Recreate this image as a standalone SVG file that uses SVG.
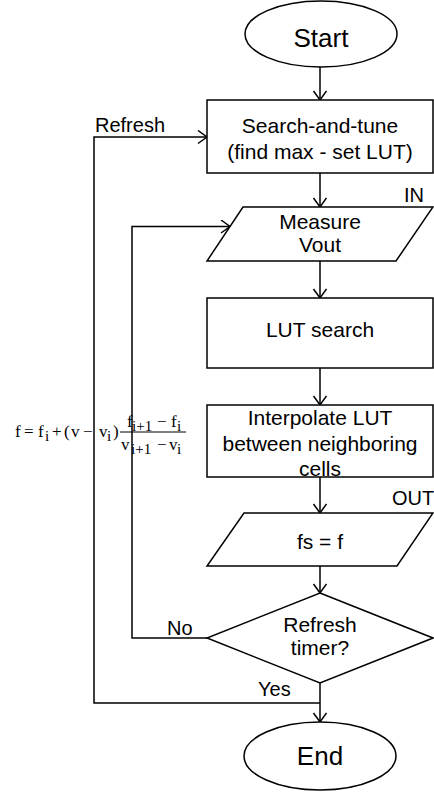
<svg xmlns="http://www.w3.org/2000/svg" width="434" height="792" viewBox="0 0 434 792">
<style>
.s{fill:#fff;stroke:#000;stroke-width:1.5}
.t{font-family:"Liberation Sans",Arial,sans-serif;font-size:21px;fill:#000;text-anchor:middle}
.b{font-family:"Liberation Sans",Arial,sans-serif;font-size:26px;fill:#000;text-anchor:middle}
.l{font-family:"Liberation Sans",Arial,sans-serif;font-size:20px;fill:#000}
.m{font-family:"Liberation Serif","Times New Roman",serif;font-size:17px;fill:#000}
.u{font-family:"Liberation Serif","Times New Roman",serif;font-size:15px;fill:#000}
.c{fill:none;stroke:#000;stroke-width:1.5}
</style>
<defs>
<marker id="a" markerUnits="userSpaceOnUse" markerWidth="16" markerHeight="16" refX="10" refY="7" orient="auto">
<path d="M1,0.5 L10,7 L1,13.5" fill="none" stroke="#000" stroke-width="1.5"/>
</marker>
</defs>
<rect width="434" height="792" fill="#fff"/>
<g id="connectors">
<line class="c" x1="320" y1="67" x2="320" y2="100" marker-end="url(#a)"/>
<line class="c" x1="320" y1="173" x2="320" y2="207" marker-end="url(#a)"/>
<line class="c" x1="320" y1="261" x2="320" y2="298" marker-end="url(#a)"/>
<line class="c" x1="320" y1="368" x2="320" y2="405" marker-end="url(#a)"/>
<line class="c" x1="320" y1="477" x2="320" y2="513" marker-end="url(#a)"/>
<line class="c" x1="320" y1="566" x2="320" y2="593" marker-end="url(#a)"/>
<line class="c" x1="320" y1="683" x2="320" y2="722" marker-end="url(#a)"/>
<path class="c" d="M320,703 H94 V137 H207" marker-end="url(#a)"/>
<path class="c" d="M207,638 H132 V226.5 H230" marker-end="url(#a)"/>
<text class="l" x="95" y="132">Refresh</text>
<text class="l" x="167" y="635">No</text>
<text class="l" x="258" y="696">Yes</text>
<text class="l" x="404" y="202">IN</text>
<text class="l" x="392" y="505">OUT</text>
</g>
<g id="start">
<ellipse class="s" cx="321" cy="34" rx="76" ry="33"/>
<text class="b" x="321" y="47">Start</text>
</g>
<g id="search-tune">
<rect class="s" x="207" y="100" width="226" height="73"/>
<text class="t" x="320" y="133">Search-and-tune</text>
<text class="t" x="320" y="159">(find max - set LUT)</text>
</g>
<g id="measure">
<polygon class="s" points="243,207 433,207 396,261 207,261"/>
<text class="t" x="320" y="229">Measure</text>
<text class="t" x="320" y="252">Vout</text>
</g>
<g id="lut-search">
<rect class="s" x="207" y="298" width="226" height="70"/>
<text class="t" x="320" y="337">LUT search</text>
</g>
<g id="interpolate">
<rect class="s" x="207" y="405" width="226" height="72"/>
<text class="t" x="320" y="425">Interpolate LUT</text>
<text class="t" x="320" y="451">between neighboring</text>
<text class="t" x="320" y="476">cells</text>
</g>
<g id="output">
<polygon class="s" points="244,513 433,513 397,566 207,566"/>
<text class="t" x="320" y="549">fs = f</text>
</g>
<g id="decision">
<polygon class="s" points="320,593 433,638 320,683 207,638"/>
<text class="t" x="320" y="632">Refresh</text>
<text class="t" x="320" y="655">timer?</text>
</g>
<g id="end">
<ellipse class="s" cx="320" cy="756" rx="76" ry="34"/>
<text class="b" x="320" y="765">End</text>
</g>
<g id="formula">
<text class="m" x="15" y="437">f</text>
<text class="m" x="24" y="437">=</text>
<text class="m" x="38" y="437">f</text>
<text class="u" x="45" y="441">i</text>
<text class="m" x="52" y="437">+</text>
<text class="m" x="64" y="437">(</text>
<text class="m" x="71" y="437">v</text>
<text class="m" x="83" y="437">−</text>
<text class="m" x="99" y="437">v</text>
<text class="u" x="107" y="441">i</text>
<text class="m" x="113" y="437">)</text>
<line x1="120" y1="432" x2="186" y2="432" stroke="#000" stroke-width="1"/>
<text class="m" x="127" y="427">f</text>
<text class="u" x="132" y="431">i+1</text>
<text class="m" x="157" y="427">−</text>
<text class="m" x="171" y="427">f</text>
<text class="u" x="177" y="431">i</text>
<text class="m" x="121" y="450">v</text>
<text class="u" x="131" y="454">i+1</text>
<text class="m" x="157" y="450">−</text>
<text class="m" x="169" y="450">v</text>
<text class="u" x="177" y="454">i</text>
</g>
</svg>
